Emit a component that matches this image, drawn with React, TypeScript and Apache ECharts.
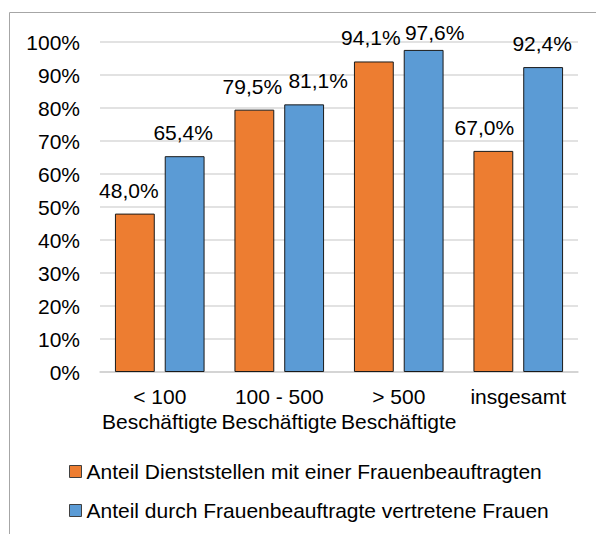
import React, { useEffect, useRef } from "react";
import * as echarts from "echarts";

const categories = ["< 100\nBeschäftigte", "100 - 500\nBeschäftigte", "> 500\nBeschäftigte", "insgesamt"];
const seriesNames = [
  "Anteil Dienststellen mit einer Frauenbeauftragten",
  "Anteil durch Frauenbeauftragte vertretene Frauen",
];
const dienststellen = [48.0, 79.5, 94.1, 67.0];
const vertreteneFrauen = [65.4, 81.1, 97.6, 92.4];
const colors = ["#ED7D31", "#5B9BD5"];

// label nudges (style only, to avoid overlapping labels like the original)
const labelShiftA = [[-6, 0], [-2, 0], [-3, 0], [-9, 0]];
const labelShiftB = [[-1.5, 0], [14, 0], [11, 6], [-1, 0]];

const FONT = "'Liberation Sans', Arial, sans-serif";
const FS = 21;

export default function App() {
  const ref = useRef<HTMLDivElement>(null);
  useEffect(() => {
    if (!ref.current) return;
    const chart = echarts.init(ref.current, undefined, { renderer: "svg" });
    const fmt = (p: any) => Number(p.value).toFixed(1).replace(".", ",") + "%";
    const mkSeries = (name: string, data: number[], color: string, shifts: number[][]) => ({
      name,
      type: "bar",
      data: data.map((v, i) => ({ value: v, label: { offset: shifts[i] } })),
      barGap: "25%",
      barCategoryGap: "25%",
      itemStyle: { color, borderColor: "#1a1a1a", borderWidth: 1 },
      label: {
        show: true,
        position: "top",
        distance: 13,
        formatter: fmt,
        color: "#000",
        fontSize: FS,
        fontFamily: FONT,
      },
    });
    chart.setOption({
      animation: false,
      textStyle: { fontFamily: FONT },
      grid: { left: 100, right: 18, top: 42, bottom: 162, containLabel: false },
      legend: {
        orient: "vertical",
        left: 69,
        top: 461,
        padding: 0,
        itemWidth: 12,
        itemHeight: 12,
        itemGap: 18,
        icon: "rect",
        textStyle: { fontSize: FS, color: "#000", fontFamily: FONT },
        itemStyle: { borderColor: "#404040", borderWidth: 1 },
        data: seriesNames,
      },
      xAxis: {
        type: "category",
        data: categories,
        axisLine: { lineStyle: { color: "#d0d0d0", width: 1.5 } },
        axisTick: { show: false },
        axisLabel: {
          interval: 0,
          margin: 12,
          fontSize: FS,
          lineHeight: 25,
          color: "#000",
          fontFamily: FONT,
        },
      },
      yAxis: {
        type: "value",
        min: 0,
        max: 100,
        interval: 10,
        axisLine: { show: false },
        axisTick: { show: false },
        splitLine: { lineStyle: { color: "#d9d9d9", width: 1.5 } },
        axisLabel: {
          formatter: "{value}%",
          margin: 20,
          fontSize: FS,
          color: "#000",
          fontFamily: FONT,
        },
      },
      graphic: [
        {
          type: "polyline",
          shape: { points: [[9.5, 540], [9.5, 12.5], [600, 12.5]] },
          style: { stroke: "#a6a6a6", lineWidth: 1, fill: null },
          silent: true,
        },
      ],
      series: [
        mkSeries(seriesNames[0], dienststellen, colors[0], labelShiftA),
        mkSeries(seriesNames[1], vertreteneFrauen, colors[1], labelShiftB),
      ],
    });
    return () => chart.dispose();
  }, []);
  return (
    <div
      ref={ref}
      style={{ position: "fixed", left: 0, top: 0, width: 596, height: 534, background: "#fff" }}
    />
  );
}
